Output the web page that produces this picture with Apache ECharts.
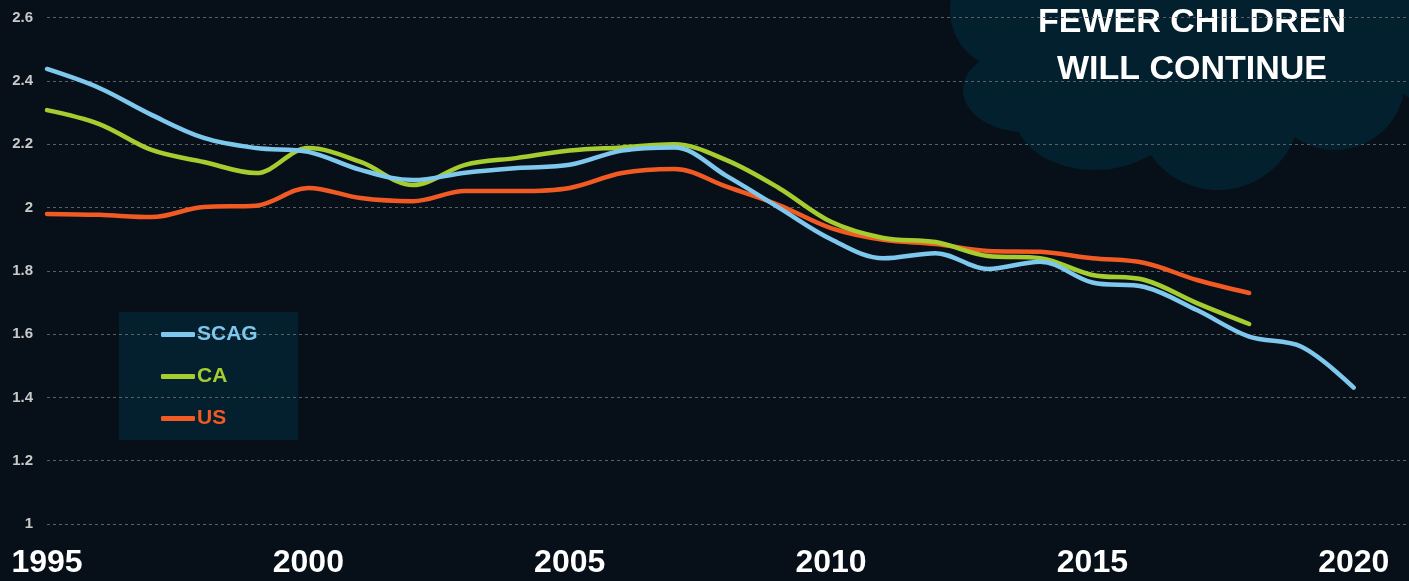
<!DOCTYPE html>
<html>
<head>
<meta charset="utf-8">
<script src="https://cdn.jsdelivr.net/npm/echarts@6/dist/echarts.min.js"></script>
<style>
  html, body { margin: 0; padding: 0; background: #071018; }
  #chart { width: 1409px; height: 581px; }
</style>
</head>
<body>
<div id="chart"></div>
<script>
// fertility rate by year
const years = [1995, 1996, 1997, 1998, 1999, 2000, 2001, 2002, 2003, 2004, 2005, 2006, 2007,
  2008, 2009, 2010, 2011, 2012, 2013, 2014, 2015, 2016, 2017, 2018, 2019, 2020];
const scag = [2.438, 2.378, 2.293, 2.22, 2.188, 2.176, 2.119, 2.087, 2.11, 2.125, 2.135, 2.18, 2.19,
  2.10, 2.0, 1.90, 1.84, 1.856, 1.806, 1.829, 1.763, 1.749, 1.676, 1.592, 1.56, 1.431];
const ca = [2.308, 2.264, 2.182, 2.144, 2.109, 2.188, 2.144, 2.071, 2.135, 2.157, 2.18, 2.19, 2.20,
  2.15, 2.062, 1.955, 1.904, 1.891, 1.847, 1.84, 1.787, 1.771, 1.698, 1.632];
const us = [1.98, 1.977, 1.97, 2.002, 2.006, 2.062, 2.03, 2.02, 2.052, 2.052, 2.062, 2.109, 2.122,
  2.066, 2.008, 1.935, 1.898, 1.885, 1.863, 1.86, 1.84, 1.825, 1.771, 1.73];
const seriesNames = ['SCAG', 'CA', 'US'];
const colors = ['#7ec8ee', '#a6cd30', '#f25a24'];

const FONT = '"Liberation Sans", Arial, sans-serif';

function pairs(vals) {
  return vals.map((v, i) => [years[i], v]);
}

// cloud made of ellipses (top right), [cx, cy, rx, ry]
const cloudColor = '#03202f';
const cloud = [
  [1010, 10, 60, 60], [1025, 90, 62, 42], [1095, 115, 80, 55], [1218, 108, 82, 82],
  [1335, 80, 70, 70], [1460, 30, 85, 85], [1180, 40, 200, 110], [1385, 0, 45, 45]
].map(c => ({
  type: 'ellipse', z: -2, silent: true,
  shape: { cx: c[0], cy: c[1], rx: c[2], ry: c[3] },
  style: { fill: cloudColor }
}));

let myChart = echarts.init(document.getElementById('chart'));
myChart.setOption({
  backgroundColor: '#071018',
  animation: false,
  grid: { left: 47, right: 0, top: 17.7, bottom: 57 },
  graphic: cloud.concat([
    {
      type: 'rect', z: -2, silent: true,
      shape: { x: 119, y: 312, width: 179, height: 128 },
      style: { fill: '#04202e' }
    },
    {
      type: 'text', z: -1, silent: true,
      style: {
        x: 1192, y: 46, text: 'FEWER CHILDREN\nWILL CONTINUE',
        align: 'center', verticalAlign: 'middle',
        fill: '#ffffff', font: 'bold 34px ' + FONT, lineHeight: 47
      }
    }
  ]),
  legend: {
    orient: 'vertical',
    left: 161,
    top: 324,
    padding: 0,
    itemWidth: 34,
    itemHeight: 5,
    itemGap: 21,
    icon: 'roundRect',
    textStyle: { fontFamily: FONT, fontWeight: 'bold', fontSize: 21, lineHeight: 21, padding: [0, 0, 0, -3] },
    data: seriesNames.map((n, i) => ({ name: n, textStyle: { color: colors[i] } }))
  },
  xAxis: {
    type: 'value',
    min: 1995,
    max: 2021,
    interval: 5,
    axisLine: { show: false },
    axisTick: { show: false },
    splitLine: { show: false },
    axisLabel: {
      color: '#ffffff',
      fontFamily: FONT,
      fontWeight: 'bold',
      fontSize: 32,
      margin: 23,
      formatter: v => (v % 5 === 0 ? String(v) : '')
    }
  },
  yAxis: {
    type: 'value',
    min: 1,
    max: 2.6,
    interval: 0.2,
    axisLine: { show: false },
    axisTick: { show: false },
    splitLine: { lineStyle: { color: '#5a6066', type: [3, 3], width: 1 } },
    axisLabel: {
      color: '#c9c9c9',
      fontFamily: FONT,
      fontWeight: 'bold',
      fontSize: 15,
      margin: 14,
      formatter: v => String(Math.round(v * 10) / 10)
    }
  },
  series: [scag, ca, us].map((vals, i) => ({
    name: seriesNames[i],
    type: 'line',
    data: pairs(vals),
    smooth: 0.35,
    symbol: 'none',
    color: colors[i],
    lineStyle: { width: 4.5, color: colors[i], cap: 'round' },
    z: 3 - i
  }))
});
</script>
</body>
</html>
